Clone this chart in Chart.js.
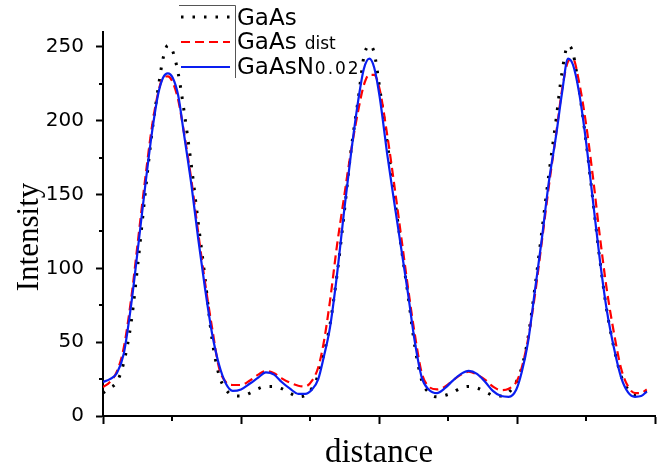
<!DOCTYPE html>
<html>
<head>
<meta charset="utf-8">
<title>Intensity profile</title>
<script src="https://cdn.jsdelivr.net/npm/chart.js@4.4.1/dist/chart.umd.min.js"></script>
<style>
  html, body { margin: 0; padding: 0; background: #fff; }
  #wrap { width: 663px; height: 470px; }
</style>
</head>
<body>
<div id="wrap"><canvas id="profile"></canvas></div>
<script>
// sample positions along the line scan (axis units, no labels on this axis)
const distance = [
  0, 0.10, 0.20, 0.30, 0.41, 0.51, 0.61, 0.71, 0.80, 0.87,
  0.94, 1.01, 1.09, 1.17, 1.28, 1.38, 1.48, 1.58, 1.68, 1.78,
  1.88, 2.00, 2.13, 2.25, 2.36, 2.48, 2.59, 2.71, 2.83, 2.93,
  3.03, 3.12, 3.20, 3.29, 3.39, 3.49, 3.59, 3.70, 3.78, 3.86,
  3.93, 4.01, 4.12, 4.22, 4.32, 4.42, 4.52, 4.62, 4.72, 4.84,
  4.96, 5.07, 5.19, 5.30, 5.42, 5.54, 5.65, 5.77, 5.88, 5.99,
  6.07, 6.16, 6.26, 6.36, 6.46, 6.57, 6.65, 6.74, 6.81, 6.90,
  7.00, 7.10, 7.20, 7.30, 7.41, 7.51, 7.61, 7.71, 7.80, 7.88
];

const gaAs = [
  15.5, 19, 23, 36, 64, 105, 150, 192, 222, 242,
  251, 247, 232, 208, 170, 131, 93, 52, 28, 18,
  14, 13.5, 15.5, 18.5, 20, 20, 18.5, 15.5, 13, 14,
  19, 28, 42, 62, 95, 135, 178, 215, 243, 251,
  246, 222, 185, 150, 115, 82, 47, 24, 16, 13,
  14, 16, 19, 20, 19, 16.5, 14, 13.5, 16, 23,
  33, 53, 87, 125, 163, 202, 232, 251, 246, 221,
  186, 146, 106, 72, 45, 27, 18, 14, 15, 17
];

const gaAsDist = [
  19.5, 23, 30, 46, 80, 120, 160, 196, 219, 229,
  230, 226, 214, 193, 160, 124, 90, 60, 33, 23,
  21, 21, 24, 28, 30.5, 29, 25.5, 22.5, 20.5, 20,
  24, 33, 50, 78, 115, 147, 178, 207, 224, 231,
  231, 221, 190, 157, 122, 87, 55, 29, 20, 18,
  20, 24, 28, 30, 28, 24.5, 20, 17.5, 18.5, 23,
  33, 52, 82, 118, 155, 192, 220, 240, 242, 226,
  198, 162, 122, 86, 55, 32, 20, 15.5, 15.5, 18
];

const gaAsN = [
  23, 25, 29, 42, 76, 115, 155, 192, 218, 229,
  232, 229, 217, 192, 157, 120, 86, 56, 35, 22,
  17, 18, 22, 26, 29.5, 28, 23, 18.5, 15, 15,
  18, 25, 40, 60, 95, 137, 176, 214, 235, 242,
  236, 216, 177, 145, 114, 83, 50, 26, 18, 15.5,
  19, 24, 28.5, 30.5, 28.5, 23, 17, 13.5, 13, 18,
  30, 50, 85, 120, 158, 191, 218, 242, 238, 219,
  186, 146, 106, 72, 45, 26, 16, 13, 13.5, 16.5
];

const yMajor = [0, 50, 100, 150, 200, 250];
const yMinor = [25, 75, 125, 175, 225];
const xMajor = [0, 2, 4, 6, 8];
const xMinor = [1, 3, 5, 7];

function points(values) {
  return values.map((v, i) => ({ x: distance[i], y: v }));
}

// minor tick marks (Chart.js only draws one tick length per axis) and axis titles
const axisExtras = {
  id: 'axisExtras',
  afterDraw(chart) {
    const { ctx, chartArea, scales } = chart;
    ctx.save();
    ctx.strokeStyle = '#000';
    ctx.lineWidth = 2;
    yMinor.forEach(v => {
      const py = Math.round(scales.y.getPixelForValue(v));
      ctx.beginPath();
      ctx.moveTo(chartArea.left - 4, py);
      ctx.lineTo(chartArea.left, py);
      ctx.stroke();
    });
    xMinor.forEach(v => {
      const px = Math.round(scales.x.getPixelForValue(v));
      ctx.beginPath();
      ctx.moveTo(px, chartArea.bottom);
      ctx.lineTo(px, chartArea.bottom + 5);
      ctx.stroke();
    });

    ctx.fillStyle = '#000';
    ctx.textAlign = 'center';
    ctx.textBaseline = 'alphabetic';
    ctx.font = '33px "Liberation Serif"';
    ctx.fillText('distance', (chartArea.left + chartArea.right) / 2, 462);

    ctx.translate(38, 237);
    ctx.rotate(-Math.PI / 2);
    ctx.font = '31px "Liberation Serif"';
    ctx.fillText('Intensity', 0, 0);
    ctx.restore();
  }
};

// legend with the smaller subscript parts of the labels
const legendLabels = [
  { main: 'GaAs', sub: '' },
  { main: 'GaAs', sub: 'dist' },
  { main: 'GaAsN', sub: '0.02' }
];

const profileLegend = {
  id: 'profileLegend',
  afterDraw(chart) {
    const ctx = chart.ctx;
    const rows = [17, 42, 67];
    const baselines = [25, 49, 74];
    ctx.save();
    // partial frame around the symbols
    ctx.strokeStyle = '#555';
    ctx.lineWidth = 1;
    ctx.beginPath();
    ctx.moveTo(179, 5.5);
    ctx.lineTo(235.5, 5.5);
    ctx.lineTo(235.5, 78);
    ctx.stroke();

    legendLabels.forEach((item, i) => {
      const ds = chart.data.datasets[i];
      ctx.strokeStyle = ds.borderColor;
      ctx.lineWidth = ds.borderWidth;
      ctx.setLineDash(ds.borderDash || []);
      ctx.beginPath();
      ctx.moveTo(181, rows[i]);
      ctx.lineTo(230, rows[i]);
      ctx.stroke();
      ctx.setLineDash([]);

      ctx.fillStyle = '#000';
      ctx.textBaseline = 'alphabetic';
      ctx.font = '23px "DejaVu Sans"';
      ctx.fillText(item.main, 237, baselines[i]);
      if (item.sub) {
        const w = ctx.measureText(item.main).width;
        const gap = i === 1 ? 8 : 1;
        ctx.font = '17px "DejaVu Sans"';
        ctx.letterSpacing = i === 2 ? '2px' : '0px';
        ctx.fillText(item.sub, 237 + w + gap, baselines[i]);
        ctx.letterSpacing = '0px';
      }
    });
    ctx.restore();
  }
};

new Chart(document.getElementById('profile'), {
  type: 'line',
  data: {
    datasets: [
      {
        label: 'GaAs',
        data: points(gaAs),
        borderColor: '#000',
        borderWidth: 3,
        borderDash: [2.5, 9],
        order: 2
      },
      {
        label: 'GaAs dist',
        data: points(gaAsDist),
        borderColor: '#ff0000',
        borderWidth: 2.2,
        borderDash: [9, 5],
        order: 1
      },
      {
        label: 'GaAsN0.02',
        data: points(gaAsN),
        borderColor: '#0a1ef0',
        borderWidth: 2.2,
        order: 0
      }
    ]
  },
  options: {
    responsive: true,
    maintainAspectRatio: false,
    animation: false,
    devicePixelRatio: 1,
    layout: { padding: { top: 32, right: 8, left: 0, bottom: 0 } },
    elements: {
      point: { radius: 0 },
      line: { cubicInterpolationMode: 'monotone', fill: false }
    },
    plugins: {
      legend: { display: false },
      tooltip: { enabled: false }
    },
    scales: {
      x: {
        type: 'linear',
        min: 0,
        max: 8,
        afterBuildTicks: s => { s.ticks = xMajor.map(v => ({ value: v })); },
        afterFit: s => { s.height = 54; },
        ticks: { display: false },
        grid: {
          drawOnChartArea: false,
          drawTicks: true,
          tickLength: 8,
          tickWidth: 2,
          tickColor: '#000'
        },
        border: { color: '#000', width: 2 }
      },
      y: {
        min: 0,
        max: 260,
        afterBuildTicks: s => { s.ticks = yMajor.map(v => ({ value: v })); },
        afterFit: s => { s.width = 103; },
        ticks: {
          color: '#000',
          padding: 12,
          font: { family: 'DejaVu Sans', size: 20 }
        },
        grid: {
          drawOnChartArea: false,
          drawTicks: true,
          tickLength: 7,
          tickWidth: 2,
          tickColor: '#000'
        },
        border: { color: '#000', width: 2 }
      }
    }
  },
  plugins: [axisExtras, profileLegend]
});
</script>
</body>
</html>
